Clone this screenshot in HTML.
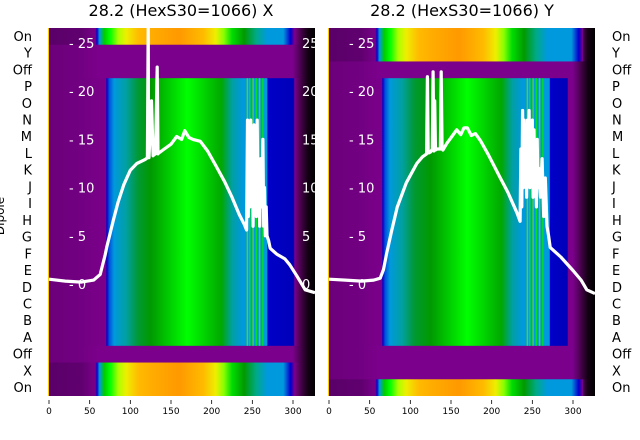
<!DOCTYPE html>
<html><head><meta charset="utf-8"><style>
html,body{margin:0;padding:0;background:#fff;}
svg{display:block;font-family:"DejaVu Sans","Liberation Sans",sans-serif;}
</style></head><body>
<svg id="c" width="640" height="440" viewBox="0 0 640 440" xmlns="http://www.w3.org/2000/svg">
<defs id="defs"></defs>
<text x="181" y="16" font-size="16" text-anchor="middle" fill="#000">28.2 (HexS30=1066) X</text>
<text x="462" y="16" font-size="16" text-anchor="middle" fill="#000">28.2 (HexS30=1066) Y</text>
<text transform="translate(4,216) rotate(-90)" font-size="12" text-anchor="middle" fill="#000">Dipole</text>
<g id="panels"></g>
</svg>
<script>
// ---- data ----
const rowLabels = ["On","Y","Off","P","O","N","M","L","K","J","I","H","G","F","E","D","C","B","A","Off","X","On"];
const rowTypesX = ["hot","bg","bg","beam","beam","beam","beam","beam","beam","beam","beam","beam","beam","beam","beam","beam","beam","beam","beam","bg","hot","hot"];
const rowTypesY = ["hot","hot","bg","beam","beam","beam","beam","beam","beam","beam","beam","beam","beam","beam","beam","beam","beam","beam","beam","bg","bg","hot"];
const xTicks = [0,50,100,150,200,250,300];
const innerTicks = [0,5,10,15,20,25];
const lineXsX = [0,20,40,55,63,69,71,75,79,85,92,100,108,118,121,122,122.5,123,126,128,129,131,133,134,135,137,140,150,157,163,167,172,177,186,195,205,216,225,234,240,243,244,245,246,247,248,249,250,251,252,253,254,255,256,257,258,259,260,261,262,263,264,265,266,267,268,270,272,280,290,296,305,315,327];
const lineYsX = [0.5,0.3,0.2,0.4,1.0,3.0,3.8,5.2,6.6,8.5,10.3,11.8,12.5,12.9,13.1,27,13.2,13.1,19,13.3,13.4,13.5,22.5,13.5,13.6,13.7,13.9,14.5,15.3,15.0,15.9,15.2,15.0,14.8,13.8,12.3,10.6,9.0,7.2,6.2,5.6,17,7,14,8,17,9,15,6,16.5,10,14,7,17,9,12,6,13,11,8,15,6,10,5,8,5,4.5,3.7,3.1,2.6,2.0,0.8,-0.6,-0.9];
const lineXsY = [0,20,40,55,63,67,71,77,84,95,108,115,120,121,122,123,125,127,128,129,130,131,133,135,137,138,139,140,145,152,157,162,166,170,175,180,186,196,210,220,231,235,236,237,238,239,240,241,242,243,244,245,246,247,248,249,250,251,252,253,254,255,256,257,258,260,262,264,266,268,270,272,285,300,310,317,327];
const lineYsY = [0.5,0.4,0.3,0.4,0.6,1.5,3.2,5.5,8.0,10.5,12.5,13.2,13.5,21.5,13.6,13.6,13.7,14,22,13.8,19,13.9,14,14,14,22,14,13.9,14.6,15.4,16.0,15.5,16.2,16.2,15.4,15.6,14.9,13.4,11.1,9.5,7.4,6.5,14,8,18,10,17,11,16,9,17,12,18,10,15,13,17,9,16,11,14,8,15,10,12,9,13,7,11,6,5,3.8,2.8,1.4,0.4,-0.6,-1.0];

// ---- layout ----
const NS = "http://www.w3.org/2000/svg";
const top0 = 28, bot0 = 396, nRows = rowLabels.length, rh = (bot0 - top0) / nRows;
const panels = [
  {key:"x", x0:49, right:315, left:48, types:rowTypesX, xs:lineXsX, ys:lineYsX, labSide:"left",
   beam:[71,269,302], hot:[59,302], cut:false},
  {key:"y", x0:329, right:595, left:328, types:rowTypesY, xs:lineXsY, ys:lineYsY, labSide:"right",
   beam:[66,272,294], hot:[59,312], cut:true}
];
const sx = 244/300; // px per unit
const defs = document.getElementById("defs");
const root = document.getElementById("panels");
function mk(tag, attrs, parent){const e=document.createElementNS(NS,tag);for(const k in attrs)e.setAttribute(k,attrs[k]);(parent||root).appendChild(e);return e;}

function grad(id, p, stops){
  const g = mk("linearGradient",{id:id,gradientUnits:"userSpaceOnUse",x1:p.left,x2:p.right,y1:0,y2:0},defs);
  const span = p.right - p.left;
  stops.forEach(s=>{
    const px = p.x0 + s[0]*sx;
    let off = Math.max(0,Math.min(1,(px-p.left)/span));
    mk("stop",{offset:off,"stop-color":s[1]},g);
  });
}
const PUR="#7b008b";
panels.forEach(p=>{
  const b=p.beam,h=p.hot;
  const tail=[[300,PUR],[309,"#4a0050"],[318,"#150015"],[327,"#000"]];
  grad("bg-"+p.key,p,[[0,"#6c007a"],[40,"#720082"],[60,PUR],...tail]);
  grad("beam-"+p.key,p,[[0,"#6c007a"],[40,"#720082"],[b[0]-1,PUR],[b[0],"#0000c8"],[b[0]+3,"#0050dd"],[b[0]+9,"#0099dd"],[b[0]+24,"#00a0a0"],[b[0]+39,"#009933"],[125,"#009900"],[140,"#00bb00"],[155,"#00dd00"],[170,"#00ff00"],[185,"#00e000"],[200,"#00c000"],[212,"#00a800"],[225,"#00a0a0"],[238,"#0099dd"],[b[1]-1,"#0099dd"],[b[1],"#0000c8"],[b[2]-1,"#0000b8"],[b[2],PUR],...tail]);
  grad("hot-"+p.key,p,[[0,"#5a0068"],[40,"#600070"],[h[0]-2,"#7a0088"],[h[0],"#0000cc"],[h[0]+3,"#0099dd"],[h[0]+9,"#00cc00"],[h[0]+16,"#00ff00"],[85,"#aaff00"],[95,"#eeee00"],[110,"#ffbb00"],[130,"#ffaa00"],[160,"#ff9900"],[190,"#ffbb00"],[205,"#eeee00"],[215,"#88ff00"],[225,"#00dd00"],[240,"#009900"],[255,"#00aa88"],[268,"#0099dd"],[h[1]-14,"#0099dd"],[h[1]-5,"#0000cc"],[h[1],PUR],...tail]);

  const g = mk("g",{});
  const cp = mk("clipPath",{id:"clip-"+p.key},defs);
  mk("rect",{x:p.left,y:top0,width:p.right-p.left,height:bot0-top0},cp);
  const hm = mk("g",{"clip-path":"url(#clip-"+p.key+")"},g);
  p.types.forEach((t,i)=>{
    const r = mk("rect",{x:p.left,y:top0+i*rh,width:p.right-p.left,height:rh+0.5,fill:"url(#"+t+"-"+p.key+")"},hm);
    
    
  });
  const firstBeam = p.types.indexOf("beam"), lastBeam = p.types.lastIndexOf("beam");
  [243,246,250,254,258,262].forEach((u,k)=>{
    const s = mk("rect",{x:p.x0+u*sx,y:top0+firstBeam*rh,width:1.5,height:(lastBeam-firstBeam+1)*rh,fill:k%2?"#00ee00":"#66dd00",opacity:0.8},hm);
    
    
  });
  mk("rect",{x:p.left,y:top0,width:1,height:bot0-top0,fill:"#ffcc00"},hm);
  const yv = v => 284 - v*9.64;
  innerTicks.forEach(v=>{
    const y=yv(v);
    const t=mk("text",{x:p.x0+20,y:y+5,"font-size":"13",fill:"#fff"},hm);
    t.textContent="- "+v;
    
    
    if(!p.cut){
      const t2=mk("text",{x:p.x0+253,y:y+5,"font-size":"13",fill:"#fff"},hm);
      t2.textContent=v;
      
      
    }
  });
  const d = p.xs.map((u,i)=>(i?"L":"M")+(p.x0+u*sx).toFixed(1)+","+yv(p.ys[i]).toFixed(1)).join(" ");
  const ln = mk("path",{d:d,fill:"none",stroke:"#fff","stroke-width":3.2,"stroke-linejoin":"round"},hm);
  
  
  xTicks.forEach(v=>{
    const x=p.x0+v*sx;
    mk("line",{x1:x,x2:x,y1:400,y2:404,stroke:"#000","stroke-width":0.8},g);
    const t=mk("text",{x:x,y:414,"font-size":"9","text-anchor":"middle",fill:"#000"},g);
    t.textContent=v;
    
    
  });
  rowLabels.forEach((l,i)=>{
    const y=top0+(i+0.5)*rh+4.5;
    const t = p.labSide==="left" ? mk("text",{x:32,y:y,"font-size":"13","text-anchor":"end",fill:"#000"},g)
                                 : mk("text",{x:612,y:y,"font-size":"13",fill:"#000"},g);
    t.textContent=l;
    
    
  });
});
</script>
</body></html>
